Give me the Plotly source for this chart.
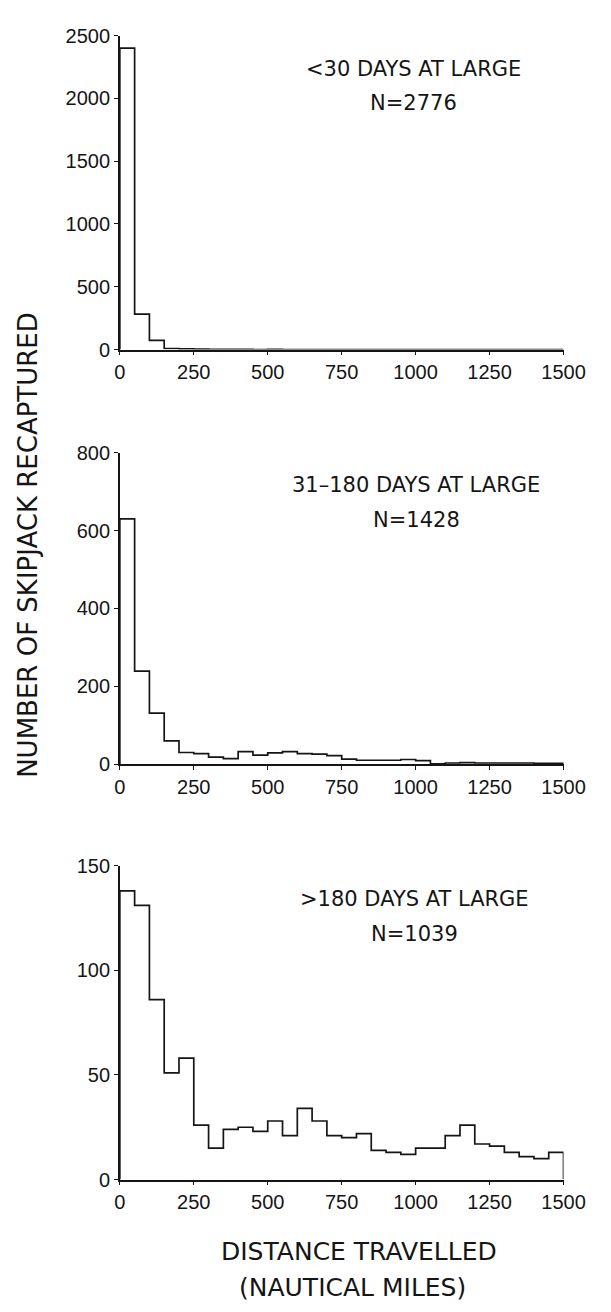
import plotly.graph_objects as go

W, H = 611, 1312

# bin edges (nautical miles), 50-mile bins
bin_edges = list(range(0, 1550, 50))

# counts per 50-mile bin, 0-1500
counts_lt30 = [2400, 282, 73, 8, 5, 3, 2, 1, 1, 0, 1, 0, 0, 0, 0,
               0, 0, 0, 0, 0, 0, 0, 0, 0, 0, 0, 0, 0, 0, 0]
counts_31_180 = [630, 239, 131, 60, 30, 27, 18, 14, 32, 23, 29, 32, 27, 26, 22,
                 13, 10, 10, 10, 12, 9, 1, 3, 4, 3, 3, 3, 3, 2, 2]
counts_gt180 = [138, 131, 86, 51, 58, 26, 15, 24, 25, 23, 28, 21, 34, 28, 21,
                20, 22, 14, 13, 12, 15, 15, 21, 26, 17, 16, 13, 11, 10, 13]

panel_labels = ["<30 DAYS AT LARGE", "31\u2013180 DAYS AT LARGE", ">180 DAYS AT LARGE"]
panel_n = ["N=2776", "N=1428", "N=1039"]
y_max = [2500, 800, 150]
y_step = [500, 200, 50]
x_ticks = [0, 250, 500, 750, 1000, 1250, 1500]

x_title = ["DISTANCE TRAVELLED", "(NAUTICAL MILES)"]
y_title = "NUMBER OF SKIPJACK RECAPTURED"

INK = "#151515"

def px_x(p):
    return p / W

def px_y(p):
    return 1 - p / H

x_dom = [px_x(119.3), px_x(584.3)]
y_doms = [
    [px_y(344.3), px_y(25)],
    [px_y(766), px_y(449.3)],
    [px_y(1188.5), px_y(869.3)],
]
text_pos = [(427, 58.5, 93.5), (430, 482, 517.5), (428, 903.5, 938.5)]

fig = go.Figure()

all_counts = [counts_lt30, counts_31_180, counts_gt180]
for i, counts in enumerate(all_counts):
    xs = [bin_edges[0]] + bin_edges + [bin_edges[-1]]
    ys = [0] + counts + [counts[-1], 0]
    ax = "" if i == 0 else str(i + 1)
    fig.add_trace(go.Scatter(
        x=xs, y=ys, mode="lines", line=dict(shape="hv", color=INK, width=1.7),
        xaxis="x" + ax, yaxis="y" + ax, showlegend=False, hoverinfo="skip",
    ))
    axis_common = dict(
        showline=True, linecolor=INK, linewidth=1.5, showgrid=False, zeroline=False,
        ticks="outside", ticklen=4, tickwidth=1.3, tickcolor=INK,
        tickfont=dict(family="Liberation Sans, Arial", size=20, color=INK),
    )
    fig.layout["xaxis" + ax] = dict(
        axis_common, domain=x_dom, range=[0, 1500], tickvals=x_ticks,
        anchor="y" + ax,
    )
    fig.layout["yaxis" + ax] = dict(
        axis_common, domain=y_doms[i], range=[0, y_max[i]],
        tickvals=list(range(0, y_max[i] + 1, y_step[i])), anchor="x" + ax,
    )
    cx, y1, y2 = text_pos[i]
    fig.add_annotation(text=panel_labels[i], x=px_x(cx), y=px_y(y1), xref="paper", yref="paper",
                       showarrow=False, xanchor="center", yanchor="middle",
                       font=dict(family="DejaVu Sans", size=21, color=INK))
    fig.add_annotation(text=panel_n[i], x=px_x(cx), y=px_y(y2), xref="paper", yref="paper",
                       showarrow=False, xanchor="center", yanchor="middle",
                       font=dict(family="DejaVu Sans", size=21, color=INK))

fig.add_annotation(text=x_title[0], x=px_x(370), y=px_y(1262), xref="paper", yref="paper",
                   showarrow=False, xanchor="center", yanchor="middle",
                   font=dict(family="DejaVu Sans", size=25, color=INK))
fig.add_annotation(text=x_title[1], x=px_x(363), y=px_y(1298), xref="paper", yref="paper",
                   showarrow=False, xanchor="center", yanchor="middle",
                   font=dict(family="DejaVu Sans", size=25, color=INK))
fig.add_annotation(text=y_title, x=px_x(23), y=px_y(543), xref="paper", yref="paper",
                   showarrow=False, xanchor="center", yanchor="middle", textangle=-90,
                   font=dict(family="DejaVu Sans", size=26, color=INK))

fig.update_layout(
    width=W, height=H, margin=dict(l=0, r=0, t=0, b=0),
    paper_bgcolor="white", plot_bgcolor="white", showlegend=False,
)

fig.write_html("out.html")
